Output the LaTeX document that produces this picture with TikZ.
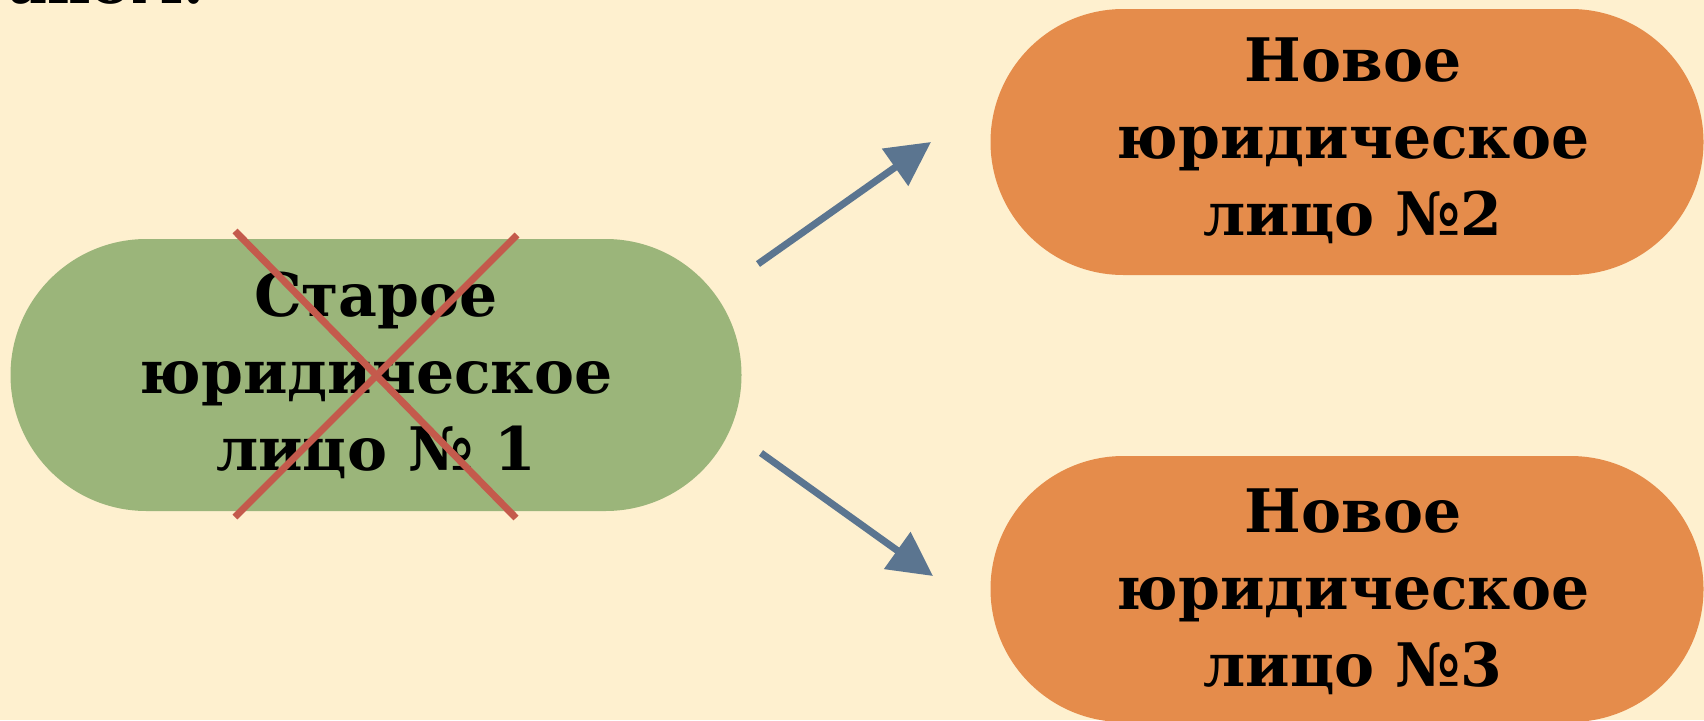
\documentclass[tikz,border=0pt]{standalone}
\usepackage{fontspec}
\setmainfont{DejaVu Serif}
\usetikzlibrary{arrows.meta}
\definecolor{bgc}{HTML}{FEF0CF}
\definecolor{greenc}{HTML}{9BB57A}
\definecolor{orangec}{HTML}{E58C4B}
\definecolor{arrowc}{HTML}{5B7590}
\definecolor{crossc}{HTML}{C45A4C}
\tikzset{
  pill/.style={rounded rectangle, minimum height=266pt, inner sep=0pt},
  lbl/.style={font=\bfseries\fontsize{60}{77}\selectfont, align=center, text=black},
  flow/.style={draw=arrowc, line width=7pt, -{Triangle[length=44pt,width=44pt]}},
  crossline/.style={draw=crossc, line width=7pt}
}
\usetikzlibrary{shapes.misc}
\begin{document}
\begin{tikzpicture}[x=1pt,y=-1pt]
\useasboundingbox (0,0) rectangle (1704,720);
\fill[bgc] (0,0) rectangle (1704,720);
\begin{scope}
\clip (0,0) rectangle (1704,720);
\node[lbl, anchor=base west, inner sep=0pt] (frag) at (8,4) {аном.};
\node[pill, fill=greenc, minimum width=731pt, minimum height=272pt] (old) at (376,375) {};
\node[pill, fill=orangec, minimum width=713pt] (new2) at (1347,142) {};
\node[pill, fill=orangec, minimum width=713pt] (new3) at (1347,589) {};
\end{scope}
\node[lbl] (toldtext) at (old.center) {Старое\\юридическое\\лицо № 1};
\node[lbl] (tnew2) at (1353,141) {Новое\\юридическое\\лицо №2};
\node[lbl] (tnew3) at (1353,592) {Новое\\юридическое\\лицо №3};
\coordinate (x1a) at (235,231);
\coordinate (x1b) at (516,518);
\coordinate (x2a) at (517,235);
\coordinate (x2b) at (235,517);
\draw[crossline] (x1a) -- (x1b);
\draw[crossline] (x2a) -- (x2b);
\coordinate (u1) at (758,264);
\coordinate (u2) at (931,142);
\coordinate (d1) at (761,453);
\coordinate (d2) at (933,576);
\draw[flow] (u1) -- (u2);
\draw[flow] (d1) -- (d2);
\end{tikzpicture}
\end{document}
